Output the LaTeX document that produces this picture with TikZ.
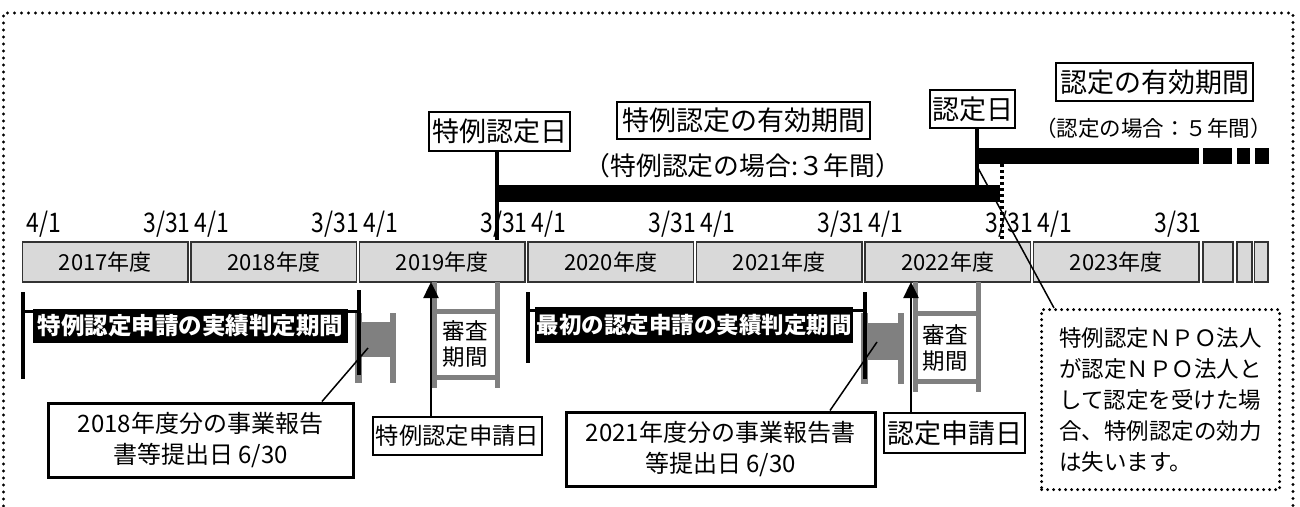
\documentclass[tikz,border=0pt]{standalone}
\usepackage{fontspec}
\setmainfont{Noto Sans CJK JP}
\newfontfamily\datefont{Noto Sans CJK JP}[FakeStretch=0.85]
\usetikzlibrary{arrows.meta}
\definecolor{yeargray}{RGB}{217,217,217}
\definecolor{spoolgray}{RGB}{128,128,128}
\newcommand{\fsz}[2]{\fontsize{#1}{#2}\selectfont}

\begin{document}
\begin{tikzpicture}[x=1pt,y=1pt]
\tikzstyle{every node}+=[inner sep=0pt]
\tikzstyle{yearbox}=[draw=black!80,line width=1.5pt,fill=yeargray,minimum width=165.5pt,minimum height=40pt,font=\fsz{22}{24}]
\tikzstyle{datetext}=[font=\datefont\fsz{27}{27}]
\tikzstyle{titlebox}=[draw,line width=2pt,fill=white,font=\fsz{27}{30}]
\tikzstyle{periodlabel}=[fill=black,text=white,font=\bfseries\fsz{23.5}{26}]
\tikzstyle{endbar}=[line width=4pt]
\tikzstyle{spool}=[fill=spoolgray]
\tikzstyle{review}=[draw=spoolgray,line width=5pt]
\tikzstyle{callout}=[draw,line width=3pt,fill=white,align=center,font=\fsz{24}{31}]
\tikzstyle{notebox}=[draw,line width=3.2pt,dash pattern=on 0pt off 6pt,line cap=round,align=left,font=\fsz{22.5}{31}]
\tikzstyle{pointer}=[line width=1.5pt]
\tikzstyle{dayarrow}=[line width=2.5pt,-{Triangle[width=15pt,length=16pt]}]
\useasboundingbox (0,0) rectangle (1300,-506);
\draw [line width=3.4pt,dash pattern=on 0pt off 7pt,line cap=round] (3.5,-506) -- (3.5,-13) -- (1293,-13) -- (1293,-506);
\foreach \yr [count=\i from 0] in {2017,...,2023} {
  \node [yearbox] (y\yr) at (105.25+168.5*\i,-262) {\yr{}年度};
  \node [datetext,anchor=base west] (s\yr) at ([xshift=4.5pt,yshift=9pt]y\yr.north west) {4/1};
  \node [datetext,anchor=base east] (e\yr) at ([xshift=2pt,yshift=9pt]y\yr.north east) {3/31};
}
\draw [yearbox] (1203,-242) rectangle (1233,-282);
\draw [yearbox] (1237,-242) rectangle (1252,-282);
\draw [yearbox] (1254.5,-242) rectangle (1268,-282);
\node [titlebox,minimum width=141pt,minimum height=39pt] (tkday) at (499.5,-131.5) {特例認定日};
\node [titlebox,minimum width=253pt,minimum height=37pt] (tkterm) at (743.5,-120.5) {特例認定の有効期間};
\node [font=\fsz{25.8}{28}] (tknote) at (743,-166) {（特例認定の場合:３年間）};
\node [titlebox,minimum width=85pt,minimum height=38pt] (nday) at (972.5,-109) {認定日};
\node [titlebox,minimum width=197pt,minimum height=38pt] (nterm) at (1154.5,-82) {認定の有効期間};
\node [font=\fsz{21.5}{24}] (nnote) at (1153.5,-128) {（認定の場合：５年間）};
\fill (497,-185) rectangle (1000,-202);
\fill (977,-148) rectangle (1199,-164);
\fill (1203,-148) rectangle (1232,-164);
\fill (1237,-148) rectangle (1250,-164);
\fill (1255,-148) rectangle (1269,-164);
\coordinate (tkline) at (497,-240);
\draw [endbar] (tkday.south -| tkline) -- (tkline);
\coordinate (nline) at (977,-185);
\draw [endbar] (nday.south -| nline) -- (nline);
\draw [line width=4pt,dash pattern=on 3pt off 3pt] (1002,-164) -- (1002,-240);
\fill [spool] (362,-322) rectangle (390,-357);
\fill [spool] (355,-313) rectangle (362,-383);
\fill [spool] (390,-313) rectangle (396,-383);
\draw [line width=3pt] (23,-311) -- (359,-311);
\draw [endbar] (23,-292) -- (23,-379);
\draw [endbar] (359,-290) -- (359,-375);
\node [periodlabel,minimum width=315pt,minimum height=34pt] (tkrec) at (190.5,-326) {特例認定申請の実績判定期間};
\fill [spool] (865,-323) rectangle (900,-360);
\fill [spool] (861,-313) rectangle (868,-384);
\fill [spool] (898,-313) rectangle (904,-384);
\draw [line width=3pt] (528,-310) -- (865,-310);
\draw [endbar] (528,-292) -- (528,-363);
\draw [endbar] (865,-292) -- (865,-379);
\node [periodlabel,font=\bfseries\fsz{22.5}{25},minimum width=318pt,minimum height=36pt] (nrec) at (694,-325) {最初の認定申請の実績判定期間};
\draw [review] (434,-282) -- (434,-388);
\draw [review] (497,-282) -- (497,-388);
\draw [review] (434,-311.5) -- (497,-311.5);
\draw [review] (434,-377.5) -- (497,-377.5);
\node [font=\fsz{22.5}{25.5},align=center] (tkreview) at (465,-344) {審査\\期間};
\draw [review] (915,-282) -- (915,-392);
\draw [review] (978,-282) -- (978,-392);
\draw [review] (915,-313) -- (978,-313);
\draw [review] (915,-381) -- (978,-381);
\node [font=\fsz{22.5}{25.5},align=center] (nreview) at (945,-348) {審査\\期間};
\node [titlebox,font=\fsz{23.3}{26},minimum width=169pt,minimum height=38pt] (tkapply) at (457.5,-436) {特例認定申請日};
\node [titlebox,minimum width=141pt,minimum height=40pt] (napply) at (954.5,-433) {認定申請日};
\coordinate (tkhead) at (431,-282);
\draw [dayarrow] (tkapply.north -| tkhead) -- (tkhead);
\coordinate (nhead) at (911,-282);
\draw [dayarrow] (napply.north -| nhead) -- (nhead);
\node [callout,minimum width=305pt,minimum height=74pt] (rep18) at (200.5,-440) {2018年度分の事業報告\\書等提出日 6/30};
\coordinate (sp18) at (368,-348);
\draw [pointer] ([xshift=121.5pt]rep18.north) -- (sp18);
\node [callout,minimum width=309pt,minimum height=74pt] (rep21) at (720.5,-449) {2021年度分の事業報告書\\等提出日 6/30};
\coordinate (sp21) at (877,-342);
\draw [pointer] ([xshift=109.5pt]rep21.north) -- (sp21);
\node [notebox,anchor=north west,minimum width=238pt,minimum height=180pt] (note) at (1040,-308) {特例認定ＮＰＯ法人\\が認定ＮＰＯ法人と\\して認定を受けた場\\合、特例認定の効力\\は失います。};
\coordinate (nfoot) at (978,-168);
\draw [pointer] (nfoot) -- ([xshift=14pt]note.north west);
\end{tikzpicture}
\end{document}
